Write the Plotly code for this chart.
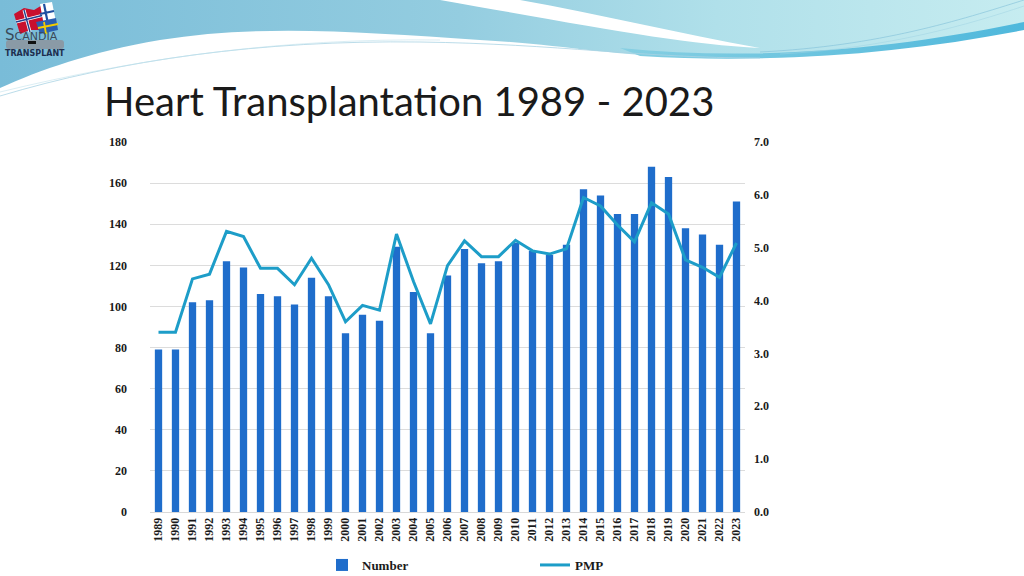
import base64
import plotly.graph_objects as go

years = [str(y) for y in range(1989, 2024)]
number = [79, 79, 102, 103, 122, 119, 106, 105, 101, 114, 105, 87, 96, 93, 129, 107, 87, 115,
          128, 121, 122, 131, 127, 125, 130, 157, 154, 145, 145, 168, 163, 138, 135, 130, 151]
pmp = [3.40, 3.40, 4.41, 4.50, 5.31, 5.21, 4.61, 4.61, 4.30, 4.80, 4.30, 3.60, 3.91, 3.82, 5.26,
       4.36, 3.56, 4.66, 5.13, 4.83, 4.83, 5.14, 4.94, 4.88, 4.98, 5.95, 5.79, 5.43, 5.11, 5.85,
       5.64, 4.77, 4.63, 4.44, 5.09]

W, H = 1024, 576
L, R, T, B = 150, 279, 142, 64
PW, PH = W - L - R, H - T - B

svg = f'''<svg xmlns="http://www.w3.org/2000/svg" width="1024" height="100" viewBox="0 0 1024 100">
<defs>
<linearGradient id="g1" x1="0" y1="0" x2="1" y2="0">
<stop offset="0" stop-color="#79bcd8"/><stop offset="0.45" stop-color="#94cde0"/>
<stop offset="0.7" stop-color="#b0e0ea"/><stop offset="1" stop-color="#c6ecf0"/></linearGradient>
<linearGradient id="g2" x1="0" y1="0" x2="1" y2="0">
<stop offset="0" stop-color="#86cfe2"/><stop offset="1" stop-color="#4fb8dc"/></linearGradient>
</defs>
<path d="M0,0 L1024,0 L1024,28 C900,50 820,60 700,58 C600,55 560,44 480,40 C360,32 260,24 160,40 C90,52 40,70 0,88 Z" fill="url(#g1)"/>
<path d="M620,48 C760,62 900,48 1024,22 L1024,30 C900,54 770,64 640,56 Z" fill="url(#g2)"/>
<path d="M440,0 L520,0 C600,14 680,34 760,48 C680,44 600,28 440,0 Z" fill="#ffffff"/>
<path d="M0,96 C120,60 260,40 420,42 C560,44 640,58 760,58" fill="none" stroke="#a9d3e3" stroke-width="0.8"/>
<path d="M0,92 C140,58 280,38 440,40" fill="none" stroke="#c2e2ec" stroke-width="0.6"/>
<path d="M760,52 C880,46 960,20 1024,0" fill="none" stroke="#7fbfd8" stroke-width="0.6"/>
<path d="M780,54 C890,48 970,24 1024,6" fill="none" stroke="#9fd3e3" stroke-width="0.5"/>
<g>
<path d="M14,14 L24,8 L34,10 L44,4 L50,4 L54,24 L48,26 L40,30 L30,30 L20,34 Z" fill="#c8102e"/>
<path d="M24,10 L30,32 M16,22 L48,14" stroke="#ffffff" stroke-width="3" fill="none"/>
<path d="M24,10 L30,32 M16,22 L48,14" stroke="#1f3f8f" stroke-width="1.4" fill="none"/>
<path d="M40,4 L52,2 L56,22 L44,26 Z" fill="#ffffff"/>
<path d="M44,4 L48,24 M40,14 L54,11" stroke="#1f4fa0" stroke-width="2.2" fill="none"/>
<path d="M36,22 L56,18 L58,30 L40,34 Z" fill="#2a5fb0"/>
<path d="M44,22 L46,34 M38,28 L58,24" stroke="#f2cc00" stroke-width="1.8" fill="none"/>
<rect x="6" y="40" width="58" height="9" rx="3" fill="#8a9aa6"/>
<rect x="28" y="41" width="8" height="3" fill="#111111"/>
</g>
</svg>'''
svg_uri = "data:image/svg+xml;base64," + base64.b64encode(svg.encode()).decode()

fig = go.Figure()
fig.add_trace(go.Bar(
    x=years, y=number, name="Number", yaxis="y",
    marker=dict(color="#1f6dcb", line=dict(width=0)),
))
fig.add_trace(go.Scatter(
    x=years, y=pmp, name="PMP", yaxis="y2", mode="lines",
    line=dict(color="#1d9dc8", width=3),
))

tick_font = dict(family="Liberation Serif, Times New Roman, serif", size=12, color="#1a1a1a",
                 weight="bold")

fig.update_layout(
    width=W, height=H,
    margin=dict(l=L, r=R, t=T, b=B, autoexpand=False),
    paper_bgcolor="#ffffff",
    plot_bgcolor="rgba(0,0,0,0)",
    bargap=0.57,
    showlegend=True,
    legend=dict(
        orientation="h", x=(322 - L) / PW, xanchor="left",
        y=-(565 - 512) / PH, yanchor="middle",
        entrywidth=168, entrywidthmode="pixels",
        font=dict(family="Liberation Serif, Times New Roman, serif", size=13, color="#1a1a1a",
                  weight="bold"),
        bgcolor="rgba(0,0,0,0)", traceorder="normal",
    ),
    xaxis=dict(
        type="category", tickangle=-90, tickfont=tick_font, automargin=False,
        showgrid=False, showline=True, linecolor="#d9d9d9", ticks="",
        range=[-0.5, len(years) - 0.5],
    ),
    yaxis=dict(
        range=[0, 180], dtick=20, tickfont=tick_font, automargin=False,
        gridcolor="#dcdcdc", gridwidth=1, zeroline=False, showline=False,
        ticklabelstandoff=22,
    ),
    yaxis2=dict(
        range=[0, 7], dtick=1, tickformat=".1f", tickfont=tick_font, automargin=False,
        overlaying="y", side="right", showgrid=False, zeroline=False, showline=False,
        ticklabelstandoff=8,
    ),
    images=[dict(
        source=svg_uri, xref="paper", yref="paper",
        x=-L / PW, y=1 + T / PH, sizex=W / PW, sizey=100 / PH,
        sizing="stretch", xanchor="left", yanchor="top", layer="below",
    )],
    annotations=[
        dict(text="Heart Transplantation 1989 - 2023", xref="paper", yref="paper",
             x=(102 - L) / PW, y=1 + (T - 101) / PH, xanchor="left", yanchor="middle",
             showarrow=False,
             font=dict(family="Lato, DejaVu Sans, sans-serif", size=40, color="#1a1a1a")),
        dict(text="S<span style='font-size:11px'>CANDIA</span>", xref="paper", yref="paper",
             x=(3 - L) / PW, y=1 + (T - 35) / PH, xanchor="left", yanchor="middle",
             showarrow=False,
             font=dict(family="DejaVu Sans, sans-serif", size=15, color="#3a4a5a")),
        dict(text="<b>TRANSPLANT</b>", xref="paper", yref="paper",
             x=(3 - L) / PW, y=1 + (T - 53) / PH, xanchor="left", yanchor="middle",
             showarrow=False,
             font=dict(family="DejaVu Sans, sans-serif", size=8, color="#1f2f4f")),
    ],
)

fig.write_html("out.html", config={"displayModeBar": False},
               post_script="document.body.style.margin='0px';")
